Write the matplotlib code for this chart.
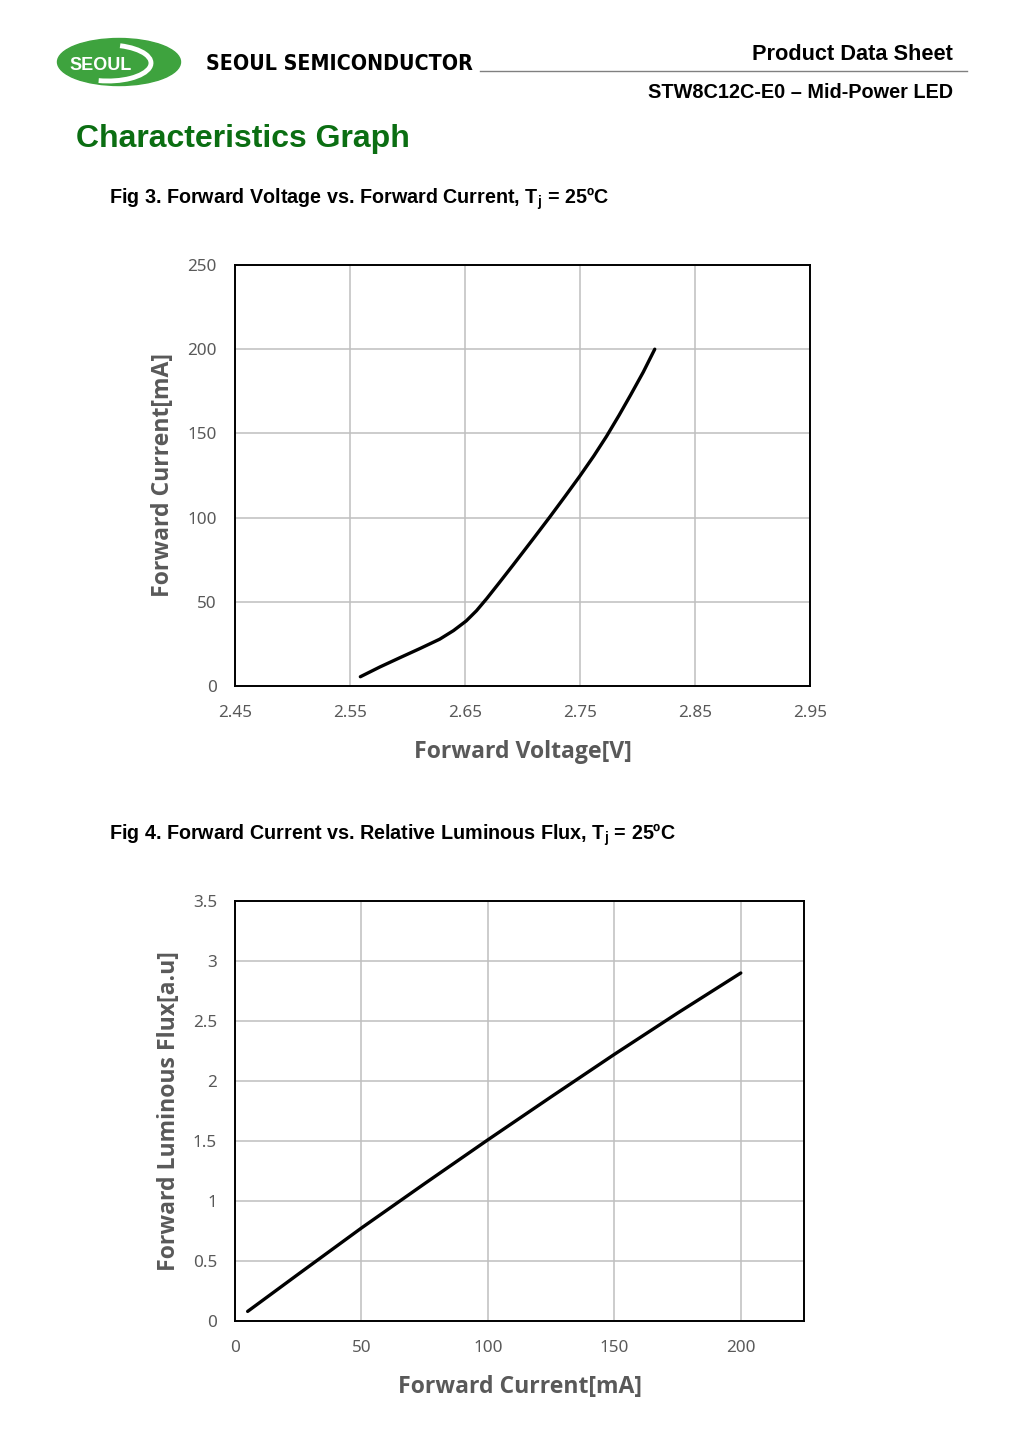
import matplotlib
matplotlib.use("Agg")
import matplotlib.pyplot as plt
from matplotlib.patches import Ellipse, Arc

# Fig 3: forward voltage [V] vs forward current [mA]
vf_volts = [2.559, 2.576, 2.594, 2.611, 2.628, 2.640, 2.651, 2.660, 2.669, 2.680,
            2.692, 2.710, 2.724, 2.737, 2.750, 2.762, 2.773, 2.784, 2.794, 2.805, 2.815]
vf_current = [5.5, 11.3, 17, 22.3, 27.8, 32.9, 38.6, 44.7, 52, 61.5,
              72, 88, 100.6, 112.6, 124.8, 136.6, 148.2, 160.8, 172.8, 186.4, 200]
vf_xticks = [2.45, 2.55, 2.65, 2.75, 2.85, 2.95]
vf_xlabels = ["2.45", "2.55", "2.65", "2.75", "2.85", "2.95"]
vf_yticks = [0, 50, 100, 150, 200, 250]
vf_ylabels = ["0", "50", "100", "150", "200", "250"]

# Fig 4: forward current [mA] vs relative luminous flux
lf_current = [5, 25, 50, 75, 100, 125, 150, 175, 200]
lf_flux = [0.08, 0.39, 0.775, 1.145, 1.51, 1.868, 2.222, 2.566, 2.90]
lf_xticks = [0, 50, 100, 150, 200]
lf_xlabels = ["0", "50", "100", "150", "200"]
lf_yticks = [0, 0.5, 1, 1.5, 2, 2.5, 3, 3.5]
lf_ylabels = ["0", "0.5", "1", "1.5", "2", "2.5", "3", "3.5"]

W, H = 1027, 1441
TICK_COLOR = "#595959"
GRID_COLOR = "#bfbfbf"
LABEL_FONT = ["Open Sans", "DejaVu Sans"]

plt.rcParams["mathtext.fontset"] = "custom"
plt.rcParams["mathtext.rm"] = "Liberation Sans:bold"
plt.rcParams["mathtext.it"] = "Liberation Sans:bold"
plt.rcParams["mathtext.bf"] = "Liberation Sans:bold"

fig = plt.figure(figsize=(W / 100, H / 100), dpi=100)
fig.patch.set_facecolor("white")

# page decorations in pixel coordinates
page = fig.add_axes([0, 0, 1, 1])
page.set_xlim(0, W)
page.set_ylim(H, 0)
page.axis("off")

page.add_patch(Ellipse((119, 62), 123, 47, color="#3ea33e"))
page.add_patch(Arc((108, 63), 86, 36, theta1=-55, theta2=118, color="white", lw=3.5))
page.text(101, 65, "SEOUL", color="white", fontsize=13, fontweight="bold",
          family="Liberation Sans", ha="center", va="center")
page.text(206, 64, "SEOUL SEMICONDUCTOR", fontsize=15.3, fontweight="bold",
          family="DejaVu Sans", fontstretch="condensed", ha="left", va="center")
page.plot([480, 967], [70.5, 70.5], color="#808080", lw=1)
page.text(953, 54, "Product Data Sheet", fontsize=15.7, fontweight="bold",
          family="Liberation Sans", ha="right", va="center")
page.text(953, 93, "STW8C12C-E0 \u2013 Mid-Power LED", fontsize=14.3, fontweight="bold",
          family="Liberation Sans", ha="right", va="center")
page.text(76, 139, "Characteristics Graph", fontsize=23, fontweight="bold",
          color="#0b6e12", family="Liberation Sans", ha="left", va="center")
page.text(109, 199, "Fig 3. Forward Voltage vs. Forward Current, T$_j$ = 25\u00baC",
          fontsize=14.2, fontweight="bold", family="Liberation Sans", ha="left", va="center")
page.text(109, 835, "Fig 4. Forward Current vs. Relative Luminous Flux, T$_j$ = 25\u00baC",
          fontsize=14.2, fontweight="bold", family="Liberation Sans", ha="left", va="center")


def style_axes(ax, xticks, xlabels, yticks, ylabels, xlabel, ylabel, xlab_y, ylab_x):
    ax.set_xticks(xticks)
    ax.set_xticklabels(xlabels)
    ax.set_yticks(yticks)
    ax.set_yticklabels(ylabels)
    ax.tick_params(length=0, labelsize=12.3, labelcolor=TICK_COLOR)
    ax.tick_params(axis="x", pad=14)
    ax.tick_params(axis="y", pad=13)
    for lab in ax.get_xticklabels() + ax.get_yticklabels():
        lab.set_family("Noto Sans")
    ax.grid(True, color=GRID_COLOR, lw=1.1)
    ax.set_axisbelow(True)
    for sp in ax.spines.values():
        sp.set_color("black")
        sp.set_linewidth(1.4)
    ax.set_xlabel(xlabel, fontsize=16.6, fontweight="bold", color=TICK_COLOR,
                  family=LABEL_FONT, va="center")
    ax.xaxis.set_label_coords(0.5, xlab_y)
    ax.set_ylabel(ylabel, fontsize=16.6, fontweight="bold", color=TICK_COLOR,
                  family=LABEL_FONT, va="center")
    ax.yaxis.set_label_coords(ylab_x, 0.5)


ax1 = fig.add_axes([235 / W, 1 - 686 / H, 575 / W, 421 / H])
ax1.plot(vf_volts, vf_current, color="black", lw=2.4,
         solid_capstyle="round", solid_joinstyle="round")
ax1.set_xlim(2.45, 2.95)
ax1.set_ylim(0, 250)
style_axes(ax1, vf_xticks, vf_xlabels, vf_yticks, vf_ylabels,
           "Forward Voltage[V]", "Forward Current[mA]", -0.157, -0.125)

ax2 = fig.add_axes([235 / W, 1 - 1321 / H, 569 / W, 420 / H])
ax2.plot(lf_current, lf_flux, color="black", lw=2.4,
         solid_capstyle="round", solid_joinstyle="round")
ax2.set_xlim(0, 225)
ax2.set_ylim(0, 3.5)
style_axes(ax2, lf_xticks, lf_xlabels, lf_yticks, lf_ylabels,
           "Forward Current[mA]", "Forward Luminous Flux[a.u]", -0.157, -0.116)

fig.savefig("out.png", dpi=100, facecolor="white")
